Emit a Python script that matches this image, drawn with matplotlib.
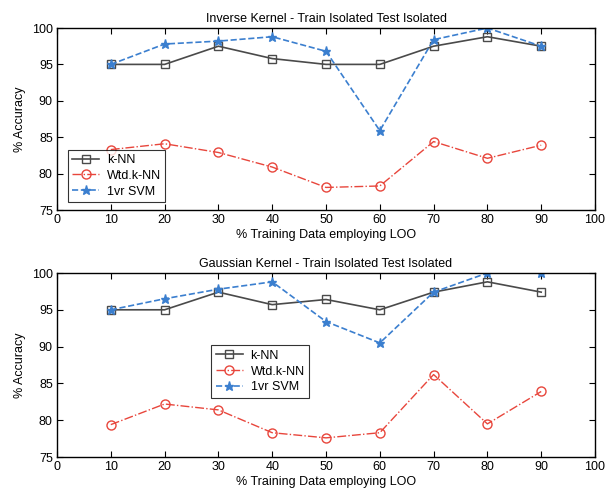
import matplotlib
matplotlib.use('Agg')
import matplotlib.pyplot as plt

plt.rcParams['font.family'] = ['Liberation Sans', 'DejaVu Sans']

# Datos
pct_train = [10, 20, 30, 40, 50, 60, 70, 80, 90]

# Kernel inverso
inv_knn = [95.0, 95.0, 97.5, 95.8, 95.0, 95.0, 97.5, 98.8, 97.5]
inv_wknn = [83.3, 84.1, 82.9, 80.9, 78.1, 78.3, 84.4, 82.1, 83.9]
inv_svm = [95.0, 97.8, 98.2, 98.8, 96.8, 85.9, 98.4, 100.0, 97.5]

# Kernel gaussiano
gau_knn = [95.0, 95.0, 97.4, 95.7, 96.4, 95.0, 97.4, 98.8, 97.4]
gau_wknn = [79.4, 82.2, 81.4, 78.3, 77.6, 78.3, 86.2, 79.5, 83.9]
gau_svm = [95.0, 96.5, 97.8, 98.8, 93.4, 90.5, 97.4, 100.0, 100.0]

titulos = ["Inverse Kernel - Train Isolated Test Isolated",
           "Gaussian Kernel - Train Isolated Test Isolated"]
series_nombres = ["k-NN", "Wtd.k-NN", "1vr SVM"]

C_KNN = "#4a4a4a"
C_WKNN = "#e8463c"
C_SVM = "#3b7fcf"

fig = plt.figure(figsize=(6.05, 4.9), dpi=100)
ax1 = fig.add_axes([57 / 605, 1 - 210 / 490, 538 / 605, 182 / 490])
ax2 = fig.add_axes([57 / 605, 1 - 457 / 490, 538 / 605, 184 / 490])

datos = [(inv_knn, inv_wknn, inv_svm), (gau_knn, gau_wknn, gau_svm)]
leyendas = [dict(loc="lower left", bbox_to_anchor=(0.008, 0.01)),
            dict(loc="upper left", bbox_to_anchor=(0.275, 0.64))]

for ax, (knn, wknn, svm), titulo, ley in zip([ax1, ax2], datos, titulos, leyendas):
    ax.plot(pct_train, knn, color=C_KNN, linestyle="-", linewidth=1.2,
            marker="s", markersize=5.5, markerfacecolor="none",
            markeredgecolor=C_KNN, label=series_nombres[0])
    ax.plot(pct_train, wknn, color=C_WKNN, linestyle="-.", linewidth=1.0,
            marker="o", markersize=6.5, markerfacecolor="none",
            markeredgecolor=C_WKNN, label=series_nombres[1])
    ax.plot(pct_train, svm, color=C_SVM, linestyle="--", linewidth=1.2,
            marker="*", markersize=6.5, markerfacecolor=C_SVM,
            markeredgecolor=C_SVM, label=series_nombres[2])

    ax.set_xlim(0, 100)
    ax.set_ylim(75, 100)
    ax.set_xticks(range(0, 101, 10))
    ax.set_yticks(range(75, 101, 5))
    ax.tick_params(direction="in", top=True, right=True, labelsize=9,
                   length=4, width=0.8, pad=3)
    for s in ax.spines.values():
        s.set_linewidth(1.0)
    ax.set_title(titulo, fontsize=9, pad=4)
    ax.set_xlabel("% Training Data employing LOO", fontsize=9, labelpad=2)
    ax.set_ylabel("% Accuracy", fontsize=9, labelpad=4)
    leg = ax.legend(fontsize=9, frameon=True, fancybox=False, edgecolor="black",
                    handlelength=2.2, borderpad=0.35, labelspacing=0.3,
                    handletextpad=0.6, **ley)
    leg.get_frame().set_linewidth(0.8)

fig.savefig("out.png", dpi=100)
plt.close(fig)
